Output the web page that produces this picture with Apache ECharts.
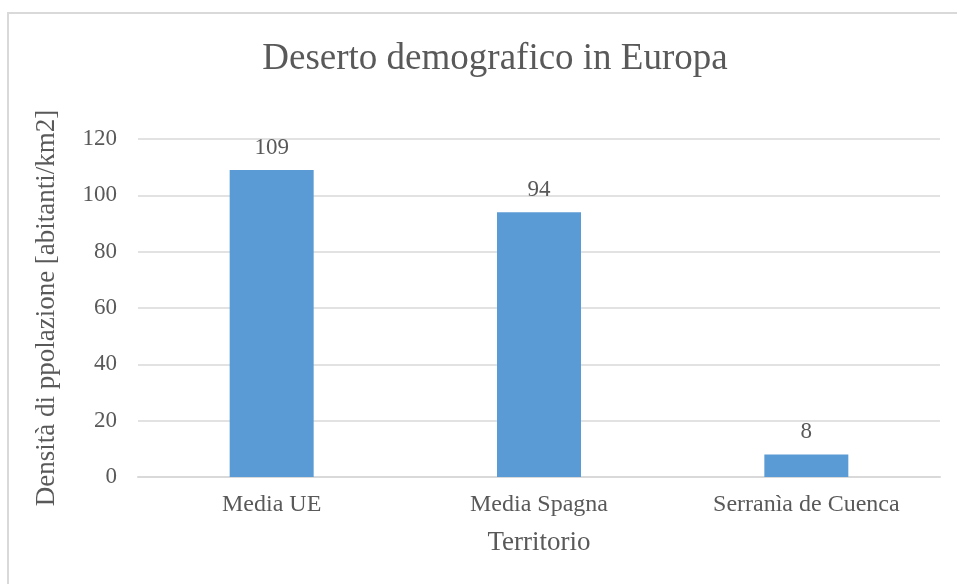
<!DOCTYPE html>
<html>
<head>
<meta charset="utf-8">
<script src="https://cdn.jsdelivr.net/npm/echarts@6/dist/echarts.min.js"></script>
<style>
  html, body { margin: 0; padding: 0; background: #fff; }
  #main { width: 957px; height: 584px; }
</style>
</head>
<body>
<div id="main"></div>
<script>
// dati del grafico
var categorie = ['Media UE', 'Media Spagna', 'Serranìa de Cuenca'];
var densita = [109, 94, 8];
var titolo = 'Deserto demografico in Europa';
var nomeAsseY = 'Densità di ppolazione [abitanti/km2]';
var nomeAsseX = 'Territorio';

var font = '"Liberation Serif", "Times New Roman", serif';
var grigio = '#595959';

var chart = echarts.init(document.getElementById('main'));
var option = {
    animation: false,
    textStyle: { fontFamily: font },
    graphic: [{
        type: 'rect',
        shape: { x: 8, y: 13, width: 980, height: 600 },
        style: { fill: 'none', stroke: '#d9d9d9', lineWidth: 2 },
        silent: true
    }],
    title: {
        text: titolo,
        left: 490,
        textAlign: 'center',
        top: 36,
        textStyle: { fontFamily: font, fontSize: 37, fontWeight: 'normal', color: grigio }
    },
    grid: { left: 138, right: 17, top: 139, bottom: 107, containLabel: false },
    xAxis: {
        type: 'category',
        data: categorie,
        name: nomeAsseX,
        nameLocation: 'middle',
        nameGap: 52,
        nameTextStyle: { fontFamily: font, fontSize: 27, color: grigio },
        axisLine: { lineStyle: { color: '#d9d9d9', width: 2 } },
        axisTick: { show: false },
        axisLabel: { fontFamily: font, fontSize: 24, color: grigio, margin: 16 }
    },
    yAxis: {
        type: 'value',
        min: 0,
        max: 120,
        interval: 20,
        name: nomeAsseY,
        nameLocation: 'middle',
        nameGap: 78,
        nameTextStyle: { fontFamily: font, fontSize: 27, color: grigio },
        axisLine: { show: false },
        axisTick: { show: false },
        splitLine: { lineStyle: { color: '#d9d9d9', width: 1.5 } },
        axisLabel: { fontFamily: font, fontSize: 23, color: grigio, margin: 21 }
    },
    series: [{
        type: 'bar',
        data: densita,
        barWidth: 84,
        itemStyle: { color: '#5b9bd5' },
        label: {
            show: true,
            position: 'top',
            distance: 11,
            fontFamily: font,
            fontSize: 23,
            color: grigio
        }
    }]
};
chart.setOption(option);
</script>
</body>
</html>
